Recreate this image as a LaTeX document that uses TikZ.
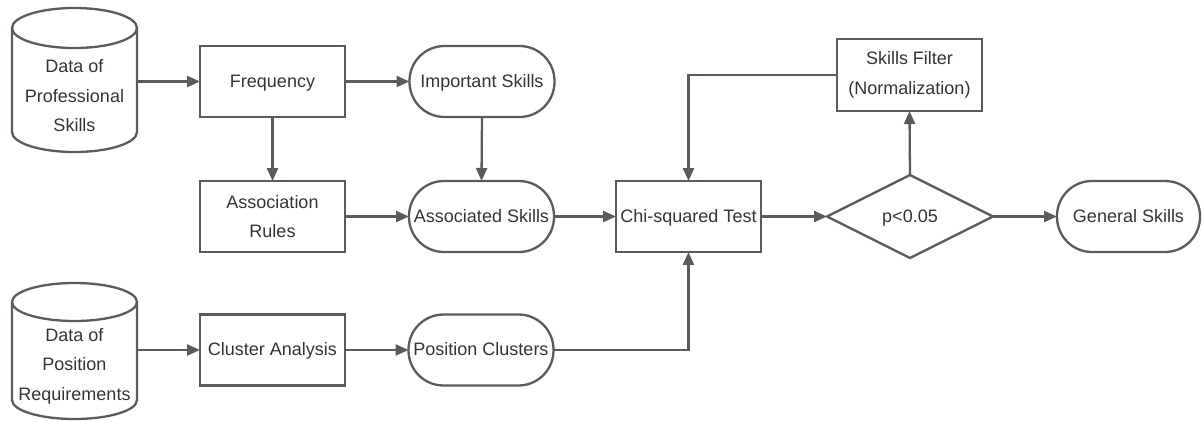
\documentclass[tikz,border=0pt]{standalone}
\usepackage{fontspec}
\setmainfont{Liberation Sans}
\usetikzlibrary{shapes.geometric,arrows.meta,calc}
\definecolor{lc}{RGB}{88,92,92}
\definecolor{tc}{RGB}{50,53,53}
\begin{document}
\begin{tikzpicture}[x=1pt,y=-1pt,
  every node/.style={font=\fontsize{18}{29.5}\selectfont, text=tc, align=center, inner sep=0pt, outer sep=0pt},
  oneline/.style={text height=14pt, text depth=3pt},
  box/.style={draw=lc, line width=2.3pt, minimum width=145pt, minimum height=71pt},
  term/.style={oneline, draw=lc, line width=2.3pt, rounded corners=35pt, minimum width=145pt, minimum height=71pt},
  dec/.style={oneline, draw=lc, line width=2.3pt, diamond, minimum width=166pt, minimum height=83pt},
  body/.style={minimum width=125pt},
  cyl/.style={draw=lc, line width=2.3pt},
  arr/.style={draw=lc, line width=2.3pt, -{Triangle[length=13pt,width=11pt]}},
]
\useasboundingbox (0,0) rectangle (1202,421);

% cylinders
\node[body, minimum height=104pt] (cylA) at (74.5,80) {};
\node (cylAtxt) at ([yshift=-16pt]cylA.center) {Data of\\Professional\\Skills};
\draw[cyl] (cylA.north west) -- (cylA.south west)
  arc[start angle=180, end angle=360, x radius=62.5pt, y radius=20pt]
  -- (cylA.north east)
  arc[start angle=0, end angle=360, x radius=62.5pt, y radius=20pt];

\node[body, minimum height=98pt] (cylB) at (74.5,351) {};
\node (cylBtxt) at ([yshift=-15pt]cylB.center) {Data of\\Position\\Requirements};
\draw[cyl] (cylB.north west) -- (cylB.south west)
  arc[start angle=180, end angle=360, x radius=62.5pt, y radius=19pt]
  -- (cylB.north east)
  arc[start angle=0, end angle=360, x radius=62.5pt, y radius=19pt];

% nodes
\node[box, oneline] (freq) at (272.5,81.5) {Frequency};
\node[term] (imp) at (482,81.5) {Important Skills};
\node[box] (rules) at (272.5,216.5) {Association\\Rules};
\node[term] (assoc) at (481.5,216.5) {Associated Skills};
\node[box, oneline] (chi) at (688.5,216.5) {Chi-squared Test};
\node[dec] (dia) at (910,216.5) {p<0.05};
\node[box, minimum height=72pt] (filter) at (909.5,75) {Skills Filter\\(Normalization)};
\node[term, minimum width=143pt] (gen) at (1128.5,216.5) {General Skills};
\node[box, oneline] (clus) at (272.5,350) {Cluster Analysis};
\node[term] (posc) at (481,350) {Position Clusters};

% connectors
\draw[arr] (cylA.east |- freq.west) -- (freq.west);
\draw[arr] (freq.east) -- (imp.west);
\draw[arr] (freq.south) -- (rules.north);
\draw[arr] (imp.south) -- (assoc.north);
\draw[arr] (rules.east) -- (assoc.west);
\draw[arr] (assoc.east) -- (chi.west);
\draw[arr] (chi.east) -- (dia.west);
\draw[arr] (dia.east) -- (gen.west);
\draw[arr] (dia.north) -- (filter.south);
\draw[arr] (filter.west) -| (chi.north);
\draw[arr] (cylB.east |- clus.west) -- (clus.west);
\draw[arr] (clus.east) -- (posc.west);
\draw[arr] (posc.east) -| (chi.south);
\end{tikzpicture}
\end{document}
